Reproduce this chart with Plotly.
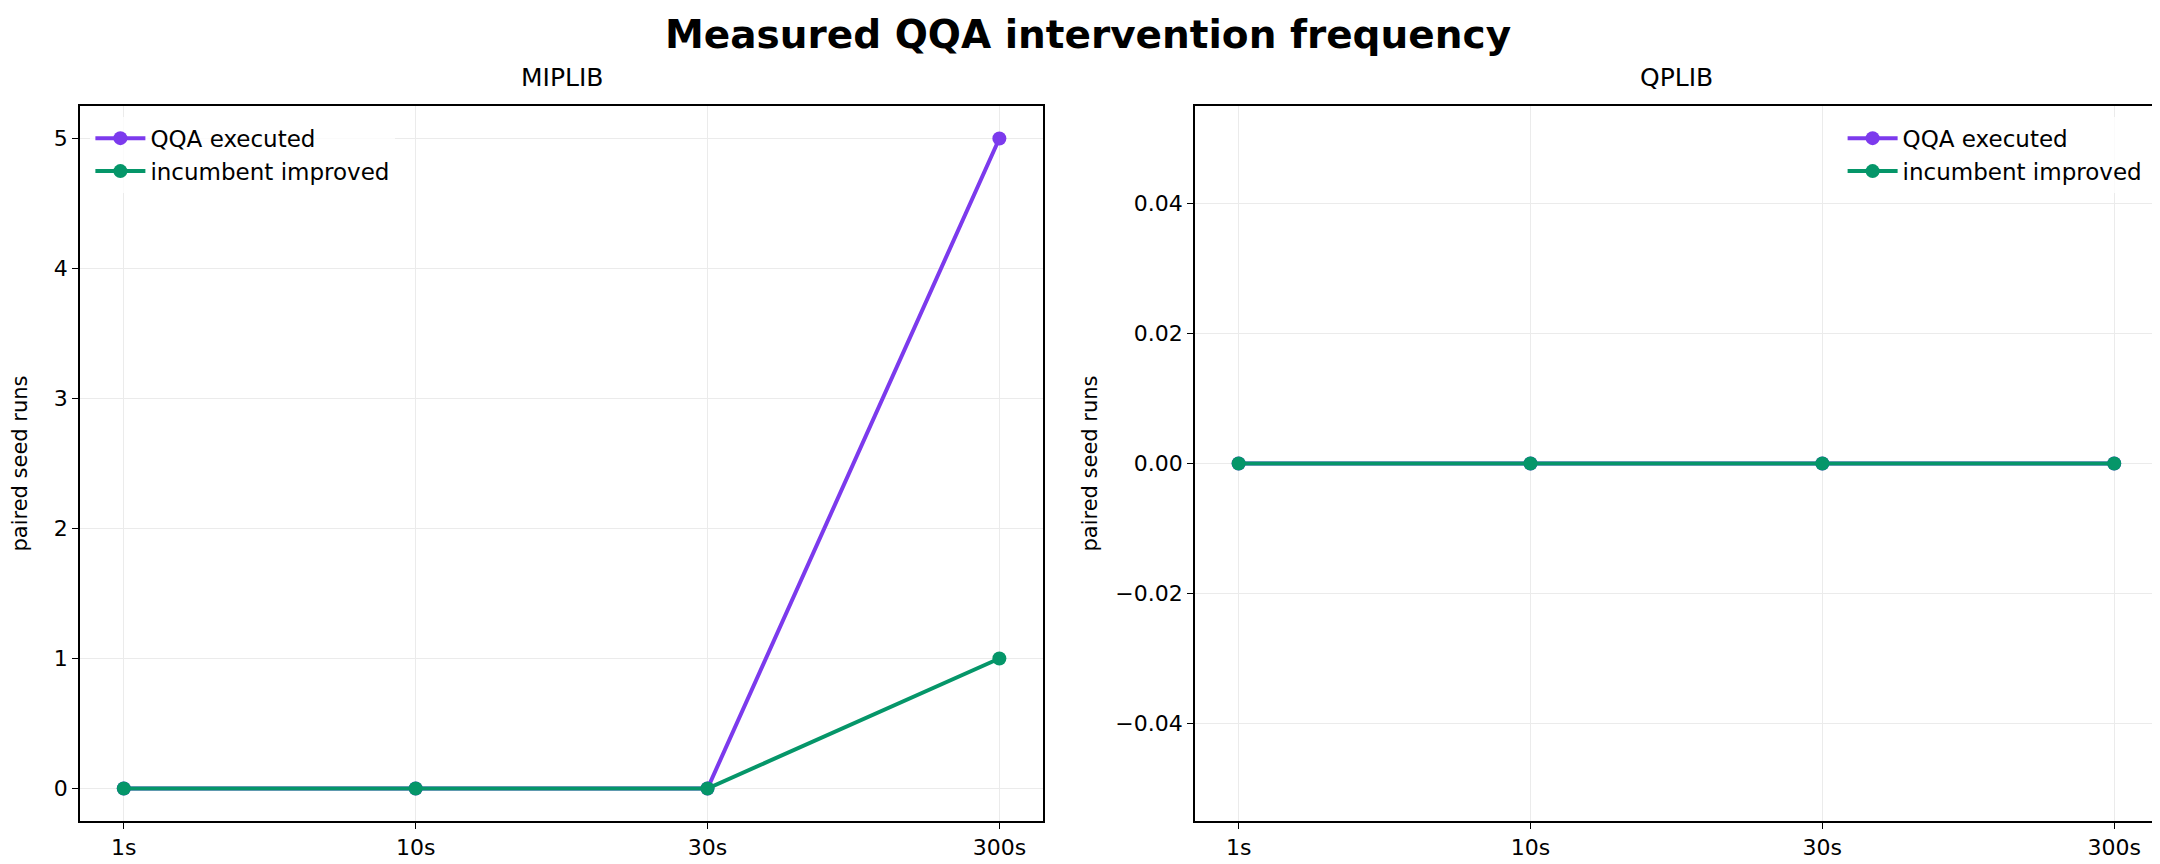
import plotly.graph_objects as go
from plotly.subplots import make_subplots

budgets = ["1s", "10s", "30s", "300s"]
miplib_qqa = [0, 0, 0, 5]
miplib_inc = [0, 0, 0, 1]
qplib_qqa = [0, 0, 0, 0]
qplib_inc = [0, 0, 0, 0]

PURPLE = "#7c3aed"
GREEN = "#059669"
F = "DejaVu Sans"

fig = make_subplots(rows=1, cols=2, horizontal_spacing=0.073,
                    subplot_titles=["MIPLIB", "QPLIB"])

def add(y, name, color, col, legend):
    fig.add_trace(go.Scatter(x=budgets, y=y, name=name, mode="lines+markers",
                             line=dict(color=color, width=4),
                             marker=dict(color=color, size=14),
                             legend=legend), row=1, col=col)

add(miplib_qqa, "QQA executed", PURPLE, 1, "legend")
add(miplib_inc, "incumbent improved", GREEN, 1, "legend")
add(qplib_qqa, "QQA executed", PURPLE, 2, "legend2")
add(qplib_inc, "incumbent improved", GREEN, 2, "legend2")

ax = dict(showline=True, linecolor="black", linewidth=1.5, mirror=True,
          showgrid=True, gridcolor="#ebebeb", ticks="outside", ticklen=6,
          tickcolor="black", zeroline=False,
          tickfont=dict(family=F, size=22, color="black"))
fig.update_xaxes(**ax, range=[-0.15, 3.15])
fig.update_yaxes(**ax)
fig.update_yaxes(range=[-0.25, 5.25], dtick=1, row=1, col=1,
                 title=dict(text="paired seed runs", font=dict(family=F, size=21, color="black"), standoff=20))
fig.update_yaxes(range=[-0.055, 0.055], dtick=0.02, tickformat=".2f", row=1, col=2,
                 title=dict(text="paired seed runs", font=dict(family=F, size=21, color="black"), standoff=12))

for a in fig.layout.annotations:
    a.font = dict(family=F, size=25, color="black")
    a.yshift = 12

leg = dict(font=dict(family=F, size=23, color="black"), bgcolor="rgba(255,255,255,0.8)",
           itemwidth=50)
fig.update_layout(
    width=2160, height=864, template="plotly_white",
    paper_bgcolor="white", plot_bgcolor="white",
    margin=dict(l=72, r=8, t=98, b=51),
    title=dict(text="<b>Measured QQA intervention frequency</b>", x=0.5, xanchor="center",
               y=0.985, yanchor="top", font=dict(family=F, size=39, color="black")),
    legend=dict(**leg, x=0.005, y=0.985, xanchor="left", yanchor="top"),
    legend2=dict(**leg, x=0.995, y=0.985, xanchor="right", yanchor="top"),
)
fig.write_html("out.html")
